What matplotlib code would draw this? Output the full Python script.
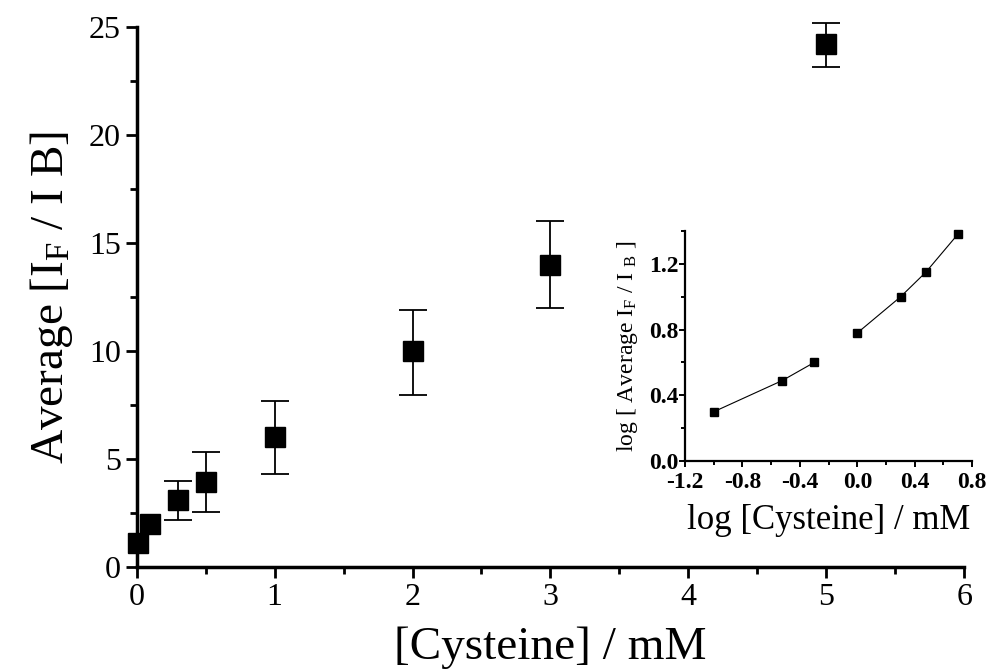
import numpy as np
import matplotlib
matplotlib.use("Agg")
import matplotlib.pyplot as plt
from matplotlib.ticker import MultipleLocator

plt.rcParams["font.family"] = "Liberation Serif"
plt.rcParams["mathtext.fontset"] = "custom"
plt.rcParams["mathtext.rm"] = "Liberation Serif"
plt.rcParams["mathtext.it"] = "Liberation Serif:italic"
plt.rcParams["mathtext.bf"] = "Liberation Serif:bold"
plt.rcParams["axes.unicode_minus"] = False

# main data: concentration (mM) vs average IF/IB, with error bars
conc = [0.01, 0.1, 0.3, 0.5, 1, 2, 3, 5]
ratio = [1.1, 2.0, 3.1, 3.95, 6.0, 10.0, 14.0, 24.2]
err_lo = [0.0, 0.0, 0.9, 1.4, 1.7, 2.05, 2.0, 1.05]
err_hi = [0.0, 0.0, 0.9, 1.4, 1.7, 1.9, 2.0, 1.0]

# inset: log-log, two linear segments
logc_a = [-1.0, -0.523, -0.301]
logr_a = [0.30, 0.49, 0.60]
logc_b = [0.0, 0.301, 0.477, 0.699]
logr_b = [0.78, 1.00, 1.15, 1.38]

fig = plt.figure(figsize=(9.9, 6.72), dpi=100)
ax = fig.add_axes([0.138, 0.156, 0.836, 0.804])

ax.plot(conc[:2], ratio[:2], "s", color="black", markersize=14, clip_on=False)
eb = ax.errorbar(conc[2:], ratio[2:], yerr=[err_lo[2:], err_hi[2:]], fmt="s",
                 color="black", markersize=14, capsize=10, elinewidth=1.3,
                 capthick=1.3)
for art in eb.lines[1] + eb.lines[2]:
    art.set_clip_on(False)
ax.set_xlim(0, 6)
ax.set_ylim(0, 25)
ax.spines["top"].set_visible(False)
ax.spines["right"].set_visible(False)
for s in ["left", "bottom"]:
    ax.spines[s].set_linewidth(2.5)
ax.xaxis.set_major_locator(MultipleLocator(1))
ax.xaxis.set_minor_locator(MultipleLocator(0.5))
ax.yaxis.set_major_locator(MultipleLocator(5))
ax.yaxis.set_minor_locator(MultipleLocator(2.5))
ax.tick_params(which="major", direction="out", length=8, width=2, labelsize=23)
ax.tick_params(which="minor", direction="out", length=5, width=2)
ax.set_xlabel("[Cysteine] / mM", fontsize=34, labelpad=10)
ax.set_ylabel(r"Average [I$_{\mathrm{F}}$ / I B]", fontsize=34, labelpad=10)

ins = fig.add_axes([0.692, 0.314, 0.290, 0.342])
ins.plot(logc_a, logr_a, "s-", color="black", markersize=6, linewidth=0.8)
ins.plot(logc_b, logr_b, "s-", color="black", markersize=6, linewidth=0.8,
         clip_on=False)
ins.set_xlim(-1.2, 0.8)
ins.set_ylim(0, 1.4)
ins.spines["top"].set_visible(False)
ins.spines["right"].set_visible(False)
for s in ["left", "bottom"]:
    ins.spines[s].set_linewidth(1.6)
ins.xaxis.set_major_locator(MultipleLocator(0.4))
ins.xaxis.set_minor_locator(MultipleLocator(0.2))
ins.yaxis.set_major_locator(MultipleLocator(0.4))
ins.yaxis.set_minor_locator(MultipleLocator(0.2))
ins.tick_params(which="major", direction="out", length=4, width=1.4,
                labelsize=17)
ins.tick_params(axis="x", which="major", pad=4)
ins.tick_params(axis="y", which="major", pad=1)
ins.tick_params(which="minor", direction="out", length=3, width=1.4)
for lab in ins.get_xticklabels() + ins.get_yticklabels():
    lab.set_fontweight("bold")
ins.set_xlabel("log [Cysteine] / mM", fontsize=25, labelpad=8)
ins.set_ylabel(r"log [ Average I$_{\mathrm{F}}$ / I $_{\mathrm{B}}$ ]", fontsize=17,
               labelpad=6)

fig.savefig("out.png", dpi=100)
